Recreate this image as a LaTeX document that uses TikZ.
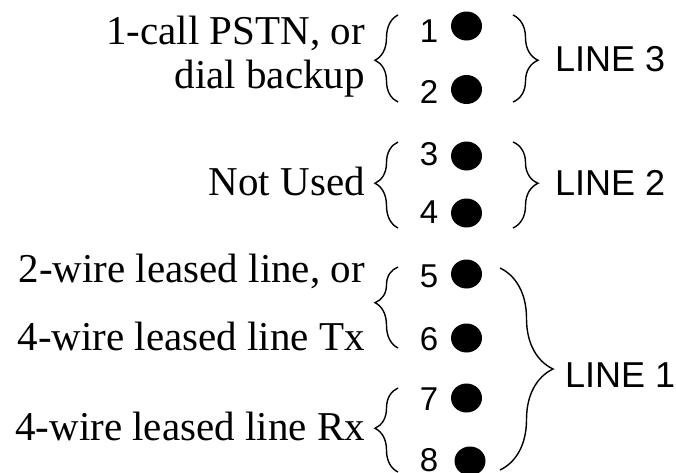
\documentclass[tikz,border=0pt]{standalone}
\usepackage{fontspec}
\setmainfont{Liberation Serif}
\setsansfont{Liberation Sans}
\usetikzlibrary{shapes.geometric,decorations.pathreplacing}

\begin{document}
\begin{tikzpicture}[x=1pt,y=-1pt,
  desc/.style={inner sep=0pt,anchor=base east,font=\fontsize{41}{41}\selectfont},
  pinno/.style={inner sep=0pt,anchor=base,font=\sffamily\fontsize{33}{33}\selectfont},
  linename/.style={inner sep=0pt,anchor=base west,font=\sffamily\fontsize{36}{36}\selectfont},
  pin/.style={ellipse,fill=black,inner sep=0pt,minimum width=31pt,minimum height=29pt},
  bracestyle/.style={line width=1.4pt,decorate,decoration={brace,amplitude=#1}},
  bracestyle/.default=23pt]
\useasboundingbox (0,0) rectangle (676,472);

% left-hand descriptions
\node[desc] (t1) at (365,44)  {1-call PSTN, or};
\node[desc] (t2) at (365,88)  {dial backup};
\node[desc] (t3) at (365,195) {Not Used};
\node[desc] (t4) at (365,282) {2-wire leased line, or};
\node[desc] (t5) at (365,350) {4-wire leased line Tx};
\node[desc] (t6) at (365,440) {4-wire leased line Rx};

% pin numbers
\node[pinno] (n1) at (429,42)  {1};
\node[pinno] (n2) at (429,103) {2};
\node[pinno] (n3) at (429,165) {3};
\node[pinno] (n4) at (429,223) {4};
\node[pinno] (n5) at (429,287) {5};
\node[pinno] (n6) at (429,350) {6};
\node[pinno] (n7) at (429,410) {7};
\node[pinno] (n8) at (429,471) {8};

% pins
\node[pin] (p1) at (466.5,26)  {};
\node[pin] (p2) at (466.5,89.5) {};
\node[pin] (p3) at (466.5,156) {};
\node[pin] (p4) at (466.5,213) {};
\node[pin] (p5) at (466.5,274) {};
\node[pin] (p6) at (466.5,338) {};
\node[pin] (p7) at (466.5,398) {};
\node[pin] (p8) at (470,461)   {};

% line names
\node[linename] (l3) at (555,71)  {LINE 3};
\node[linename] (l2) at (555,195) {LINE 2};
\node[linename] (l1) at (565,387) {LINE 1};

% brace end points
\coordinate (a1) at (398,102); \coordinate (b1) at (398,15);
\coordinate (a2) at (398,228); \coordinate (b2) at (398,142);
\coordinate (a3) at (398,348); \coordinate (b3) at (398,267);
\coordinate (a4) at (398,472); \coordinate (b4) at (398,388);
\coordinate (c3) at (513,15);  \coordinate (e3) at (513,102);
\coordinate (c2) at (513,142); \coordinate (e2) at (513,228);
\coordinate (c1) at (500,268); \coordinate (e1) at (500,470);

% braces grouping the pins
\draw[bracestyle,decoration={aspect=0.48}] (a1) -- (b1);
\draw[bracestyle,decoration={aspect=0.52}] (a2) -- (b2);
\draw[bracestyle,decoration={aspect=0.56}] (a3) -- (b3);
\draw[bracestyle,decoration={aspect=0.52}] (a4) -- (b4);
\draw[bracestyle=25pt,decoration={aspect=0.52}] (c3) -- (e3);
\draw[bracestyle=25pt,decoration={aspect=0.48}] (c2) -- (e2);
\draw[bracestyle=53pt,decoration={aspect=0.5}] (c1) -- (e1);
\end{tikzpicture}
\end{document}
